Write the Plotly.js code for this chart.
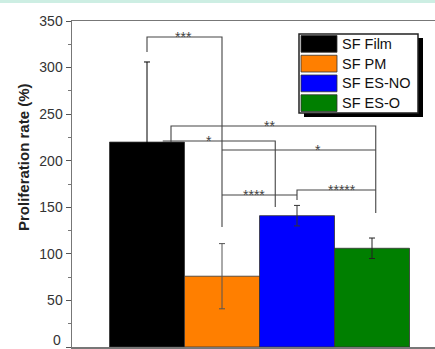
<!DOCTYPE html>
<html>
<head>
<meta charset="utf-8">
<script src="https://cdn.plot.ly/plotly-3.0.1.min.js"></script>
<style>html,body{margin:0;padding:0;background:#fff;}#chart{width:435px;height:349px;}</style>
</head>
<body>
<div id="chart"></div>
<script>
// ---- data ----
const categories = ['SF Film', 'SF PM', 'SF ES-NO', 'SF ES-O'];
const proliferation = [220, 76, 141, 106];
const errorValues = [86, 35, 11, 11];
const barColors = ['#000000', '#ff7f00', '#0000ff', '#007f00'];
const errorColors = ['#000000', '#555555', '#333333', '#222222'];
const sigLabels = ['***', '**', '*', '*', '****', '*****'];
const yTickValues = [0, 50, 100, 150, 200, 250, 300, 350];
const yTitle = 'Proliferation rate (%)';

// ---- layout helpers ----
const W = 435, H = 349, L = 72, R = 0, T = 21, B = 2;
const pw = W - L - R, ph = H - T - B;
const px = v => (v - L) / pw;          // pixel x -> paper x
const py = v => (H - B - v) / ph;      // pixel y -> paper y
const FONT = 'Liberation Sans, Arial, sans-serif';

const xIdx = categories.map((_, i) => i);

const traces = categories.map((c, i) => ({
  type: 'bar',
  name: c,
  x: [xIdx[i]],
  y: [proliferation[i]],
  width: 1,
  marker: {color: barColors[i], line: {color: '#333', width: 0.8}},
  error_y: {type: 'data', array: [errorValues[i]], visible: true, color: errorColors[i], thickness: 1, width: 3},
  showlegend: false,
  hoverinfo: 'skip'
}));

// significance brackets (geometry in data units)
const bracketPaths = [
  'M0,316.7 V332.8 H1.0 V128.8',
  'M0.32,220 V237.3 H3.05 V143.9',
  'M0.21,221.2 H1.71 V150.3',
  'M1.0,211.5 H3.05',
  'M1.0,163.2 H2.0',
  'M2.0,157.8 V168.6 H3.05'
];
const labelPos = [[0.48, 332.8], [1.63, 237.3], [0.83, 221.2], [2.28, 211.5], [1.43, 163.2], [2.6, 168.6]];

const shapes = [];
const annotations = [];

// top mint band
shapes.push({type: 'rect', xref: 'paper', yref: 'paper', x0: -1, x1: 2, y0: py(3), y1: py(-2),
  fillcolor: '#cdeee3', line: {width: 0}, layer: 'above'});

bracketPaths.forEach(p => shapes.push({type: 'path', xref: 'x', yref: 'y', path: p,
  line: {color: '#444', width: 1.1}, layer: 'above'}));
sigLabels.forEach((s, i) => annotations.push({xref: 'x', yref: 'y', x: labelPos[i][0], y: labelPos[i][1],
  text: s, showarrow: false, yanchor: 'middle', yshift: 0,
  font: {family: FONT, size: 14, color: '#444'}}));

// y-axis title as annotation (positioned like the reference)
annotations.push({xref: 'paper', yref: 'paper', x: px(23), y: py(157), xanchor: 'center', yanchor: 'middle',
  textangle: -90, text: '<b>' + yTitle + '</b>', showarrow: false, font: {family: FONT, size: 15, color: '#222'}});

// bottom tick label, nudged up so it stays inside the picture
annotations.push({xref: 'paper', yref: 'paper', x: px(63), y: py(340), xanchor: 'right', yanchor: 'middle',
  text: String(yTickValues[0]), showarrow: false, font: {family: FONT, size: 14, color: '#333'}});

// custom legend
const lgX0 = 299, lgX1 = 418, lgY0 = 34, lgY1 = 113, rowH = (lgY1 - lgY0) / categories.length;
shapes.push({type: 'rect', xref: 'paper', yref: 'paper', x0: px(lgX0 + 5), x1: px(lgX1 + 5), y0: py(lgY1 + 4), y1: py(lgY0 + 4),
  fillcolor: '#000', line: {width: 0}, layer: 'above'});
shapes.push({type: 'rect', xref: 'paper', yref: 'paper', x0: px(lgX0), x1: px(lgX1), y0: py(lgY1), y1: py(lgY0),
  fillcolor: '#fff', line: {color: '#222', width: 1.5}, layer: 'above'});
categories.forEach((c, i) => {
  const top = lgY0 + i * rowH;
  shapes.push({type: 'rect', xref: 'paper', yref: 'paper', x0: px(301), x1: px(337), y0: py(top + rowH - 1.5), y1: py(top + 1.5),
    fillcolor: barColors[i], line: {color: '#333', width: 0.8}, layer: 'above'});
  annotations.push({xref: 'paper', yref: 'paper', x: px(340), y: py(top + rowH / 2), xanchor: 'left', yanchor: 'middle',
    text: c, showarrow: false, font: {family: FONT, size: 14.5, color: '#111'}});
});

const layout = {
  width: W, height: H,
  margin: {l: L, r: R, t: T, b: B},
  paper_bgcolor: '#fff', plot_bgcolor: '#fff',
  barmode: 'overlay',
  showlegend: false,
  xaxis: {range: [-1, 3.84], showticklabels: false, ticks: '', showgrid: false, zeroline: false,
    showline: true, linecolor: '#777', linewidth: 1.5, mirror: true},
  yaxis: {range: [0, 350], tickvals: yTickValues, ticktext: yTickValues.map(v => v === 0 ? '' : String(v)),
    ticks: 'outside', ticklen: 5, tickcolor: '#555', tickwidth: 1,
    showgrid: false, zeroline: false, showline: true, linecolor: '#777', linewidth: 1.5,
    minor: {dtick: 25, ticks: 'outside', ticklen: 3, tickcolor: '#777', showgrid: false},
    tickfont: {family: FONT, size: 14, color: '#333'}},
  shapes: shapes,
  annotations: annotations
};

Plotly.newPlot('chart', traces, layout, {staticPlot: true, displayModeBar: false});
</script>
</body>
</html>
